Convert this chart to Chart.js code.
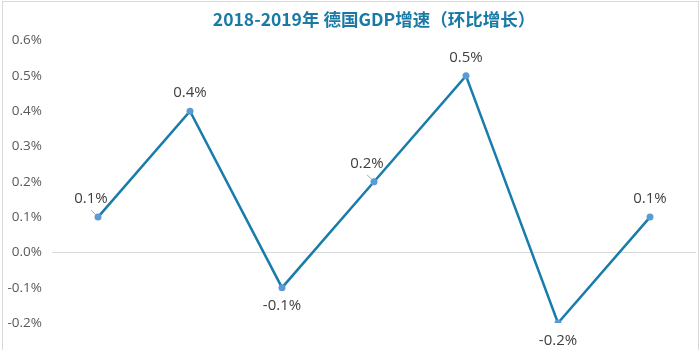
<!DOCTYPE html>
<html>
<head>
<meta charset="utf-8">
<script src="https://cdn.jsdelivr.net/npm/chart.js@4.4.1/dist/chart.umd.min.js"></script>
<style>
  html, body { margin: 0; padding: 0; background: #ffffff; }
  #wrap { position: relative; width: 700px; height: 350px; overflow: hidden; }
  #frame { position: absolute; left: 2px; top: 1px; width: 695px; height: 400px;
           border: 1px solid #d9d9d9; border-bottom: none; pointer-events: none; }
  canvas { position: absolute; left: 0; top: 0; }
</style>
</head>
<body>
<div id="wrap">
  <canvas id="c" width="700" height="350"></canvas>
  <div id="frame"></div>
</div>
<script>
// Quarterly German GDP growth, quarter on quarter (%)
const quarters = ['2018Q1', '2018Q2', '2018Q3', '2018Q4', '2019Q1', '2019Q2', '2019Q3'];
const growth = [0.1, 0.4, -0.1, 0.2, 0.5, -0.2, 0.1];
// Where each value label sits relative to its point
const labelSide = ['leader', 'above', 'below', 'leader', 'above', 'below', 'above'];
const yTicks = [-0.2, -0.1, 0.0, 0.1, 0.2, 0.3, 0.4, 0.5, 0.6];

const LABEL_FONT = '15px "Open Sans", "Noto Sans", sans-serif';

const valueLabels = {
  id: 'valueLabels',
  afterDatasetsDraw(chart) {
    const ctx = chart.ctx;
    const meta = chart.getDatasetMeta(0);
    ctx.save();
    ctx.font = LABEL_FONT;
    ctx.textAlign = 'center';
    ctx.textBaseline = 'middle';
    meta.data.forEach((pt, i) => {
      const v = growth[i];
      const text = v.toFixed(1) + '%';
      const side = labelSide[i];
      let x = pt.x, y = pt.y;
      if (side === 'above') { y -= 18; }
      else if (side === 'below') { y += 18; }
      else {
        // short leader line toward the label, up and to the left
        ctx.strokeStyle = '#a6a6a6';
        ctx.lineWidth = 1;
        ctx.beginPath();
        ctx.moveTo(pt.x - 2, pt.y - 2);
        ctx.lineTo(pt.x - 7, pt.y - 7);
        ctx.stroke();
        x -= 7; y -= 18;
      }
      ctx.fillStyle = '#404040';
      ctx.fillText(text, x, y);
    });
    ctx.restore();
  }
};

new Chart(document.getElementById('c'), {
  type: 'line',
  data: {
    labels: quarters,
    datasets: [{
      data: growth,
      borderColor: '#1a7cab',
      borderWidth: 2.5,
      pointRadius: 3.5,
      pointBackgroundColor: '#5b9bd5',
      pointBorderColor: '#5b9bd5',
      pointBorderWidth: 0,
      tension: 0,
      fill: false
    }]
  },
  options: {
    responsive: false,
    animation: false,
    events: [],
    layout: { padding: { left: 0, right: 3, top: 0, bottom: 27 } },
    plugins: {
      legend: { display: false },
      tooltip: { enabled: false },
      title: {
        display: true,
        fullSize: false,
        text: '2018-2019年 德国GDP增速（环比增长）',
        color: '#1a7aa6',
        font: { family: '"Noto Sans CJK SC", "Noto Sans", sans-serif', size: 17.5, weight: 'bold' },
        padding: { top: 9, bottom: 10.5 }
      }
    },
    scales: {
      x: {
        display: false,
        offset: true
      },
      y: {
        min: -0.2,
        max: 0.6,
        afterFit(scale) { scale.width = 52; },
        afterBuildTicks(scale) { scale.ticks = yTicks.map(v => ({ value: v })); },
        border: { display: false },
        grid: {
          drawTicks: false,
          color: (c) => (c.tick && Math.abs(c.tick.value) < 1e-9) ? '#d9d9d9' : 'rgba(0,0,0,0)',
          lineWidth: 1
        },
        ticks: {
          padding: 10,
          color: '#595959',
          font: { family: '"Open Sans", "Noto Sans", sans-serif', size: 13.5 },
          callback: (v) => Number(v).toFixed(1) + '%'
        }
      }
    }
  },
  plugins: [valueLabels]
});
</script>
</body>
</html>
